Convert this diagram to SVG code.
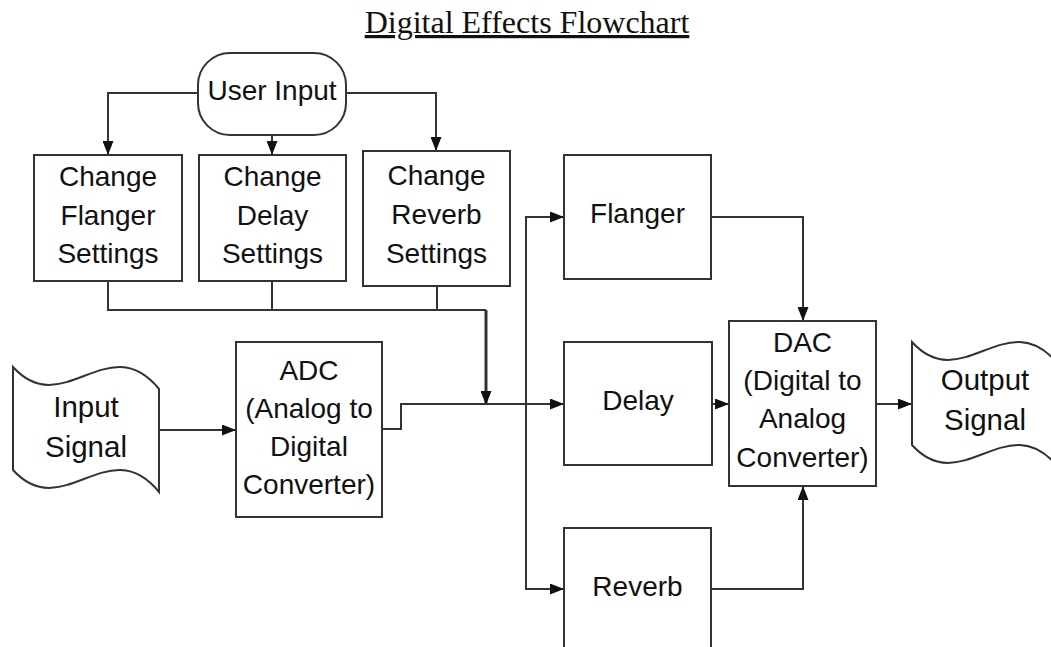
<svg xmlns="http://www.w3.org/2000/svg" width="1051" height="647" viewBox="0 0 1051 647">
<style>
.box{fill:#fff;stroke:#333;stroke-width:2}
.lbl{font-family:"Liberation Sans",Arial,sans-serif;font-size:28px;fill:#111;text-anchor:middle}
.big{font-size:29.5px}
.conn{fill:none;stroke:#333;stroke-width:2}
.thick{stroke-width:3}
.title{font-family:"Liberation Serif","Times New Roman",serif;font-size:32px;fill:#111;text-anchor:middle;text-decoration:underline}
</style>
<defs>
<marker id="arr" markerUnits="userSpaceOnUse" markerWidth="14" markerHeight="11" refX="14" refY="5.5" orient="auto">
<path d="M0,0 L14,5.5 L0,11 z" fill="#111"/>
</marker>
</defs>
<rect width="1051" height="647" fill="#fff"/>
<text class="title" x="527" y="33">Digital Effects Flowchart</text>

<g id="connectors">
<path class="conn" d="M198,93 H108 V155" marker-end="url(#arr)"/>
<path class="conn" d="M272,135 V155" marker-end="url(#arr)"/>
<path class="conn" d="M346,93 H436 V151" marker-end="url(#arr)"/>
<path class="conn" d="M108,281 V310 H486"/>
<path class="conn" d="M272,281 V310"/>
<path class="conn" d="M437,286 V310"/>
<path class="conn thick" d="M486,310 V405" marker-end="url(#arr)"/>
<path class="conn" d="M159,430 H236" marker-end="url(#arr)"/>
<path class="conn" d="M382,429 H401 V404 H564" marker-end="url(#arr)"/>
<path class="conn" d="M526,404 V217 H564" marker-end="url(#arr)"/>
<path class="conn" d="M526,404 V589 H564" marker-end="url(#arr)"/>
<path class="conn" d="M711,217 H803 V321" marker-end="url(#arr)"/>
<path class="conn" d="M712,404 H729" marker-end="url(#arr)"/>
<path class="conn" d="M711,589 H803 V486" marker-end="url(#arr)"/>
<path class="conn" d="M876,404 H912" marker-end="url(#arr)"/>
</g>

<g id="user-input">
<rect class="box" x="198" y="53" width="148" height="82" rx="32" ry="32"/>
<text class="lbl" x="272" y="100">User Input</text>
</g>

<g id="change-flanger">
<rect class="box" x="34" y="155" width="148" height="126"/>
<text class="lbl" x="108" y="186">Change</text>
<text class="lbl" x="108" y="225">Flanger</text>
<text class="lbl" x="108" y="263">Settings</text>
</g>

<g id="change-delay">
<rect class="box" x="199" y="155" width="147" height="126"/>
<text class="lbl" x="272.5" y="186">Change</text>
<text class="lbl" x="272.5" y="225">Delay</text>
<text class="lbl" x="272.5" y="263">Settings</text>
</g>

<g id="change-reverb">
<rect class="box" x="363" y="151" width="147" height="135"/>
<text class="lbl" x="436.5" y="185">Change</text>
<text class="lbl" x="436.5" y="224">Reverb</text>
<text class="lbl" x="436.5" y="263">Settings</text>
</g>

<g id="input-signal">
<path class="box" d="M13,367 C63,422 108,327 159,389 V492 C108,430 63,525 13,470 Z"/>
<text class="lbl big" x="86" y="417">Input</text>
<text class="lbl big" x="86" y="457">Signal</text>
</g>

<g id="adc">
<rect class="box" x="236" y="342" width="146" height="175"/>
<text class="lbl" x="309" y="380">ADC</text>
<text class="lbl" x="309" y="418">(Analog to</text>
<text class="lbl" x="309" y="456">Digital</text>
<text class="lbl" x="309" y="494">Converter)</text>
</g>

<g id="flanger">
<rect class="box" x="564" y="155" width="147" height="124"/>
<text class="lbl" x="637.5" y="223">Flanger</text>
</g>

<g id="delay">
<rect class="box" x="564" y="342" width="148" height="123"/>
<text class="lbl" x="638" y="410">Delay</text>
</g>

<g id="reverb">
<rect class="box" x="564" y="528" width="147" height="140"/>
<text class="lbl" x="637.5" y="596">Reverb</text>
</g>

<g id="dac">
<rect class="box" x="729" y="321" width="147" height="165"/>
<text class="lbl" x="802.5" y="352">DAC</text>
<text class="lbl" x="802.5" y="390">(Digital to</text>
<text class="lbl" x="802.5" y="428">Analog</text>
<text class="lbl" x="802.5" y="467">Converter)</text>
</g>

<g id="output-signal">
<path class="box" d="M912,342 C962,397 1007,302 1058,364 V467 C1007,405 962,500 912,445 Z"/>
<text class="lbl big" x="985" y="390">Output</text>
<text class="lbl big" x="985" y="430">Signal</text>
</g>
</svg>
